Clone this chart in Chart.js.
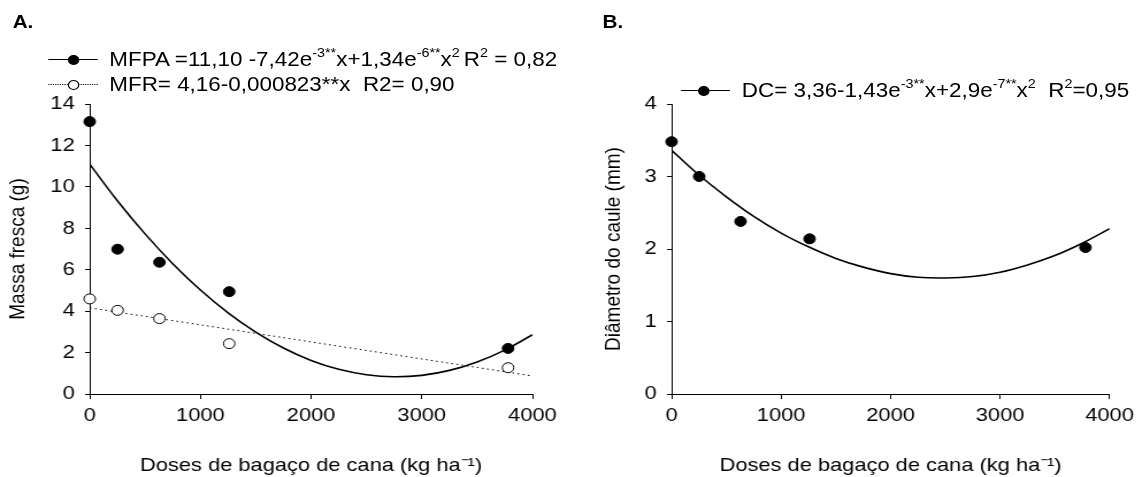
<!DOCTYPE html>
<html>
<head>
<meta charset="utf-8">
<script src="https://cdn.jsdelivr.net/npm/chart.js@4.4.1/dist/chart.umd.min.js"></script>
<style>
  body { margin: 0; background: #fff; overflow: hidden; }
  #wrap { position: absolute; left: 0; top: 0; width: 991.3px; height: 477px; transform: scaleX(1.15); transform-origin: 0 0; }
  .box { position: absolute; top: 0; height: 477px; }
  .txt { position: absolute; font-family: "Liberation Sans", Arial, sans-serif; color: #000; white-space: nowrap; line-height: 1; }
  .leg { font-size: 19.5px; transform: translateY(-50%); }
  .leg sup { font-size: 12.5px; vertical-align: baseline; position: relative; top: -0.72em; }
  .panel { font-size: 18px; font-weight: bold; transform: translateY(-50%); }
  .ln { position: absolute; height: 0; border-top: 1.5px solid #000; }
  .dot { position: absolute; height: 0; border-top: 1.2px dotted #000; }
  .mk { position: absolute; width: 10px; height: 10px; border-radius: 50%; box-sizing: border-box; border: 1px solid #000; }
</style>
</head>
<body>
<div id="wrap">
  <div class="box" style="left:0;width:504px"><canvas id="chartA"></canvas></div>
  <div class="box" style="left:504px;width:487px"><canvas id="chartB"></canvas></div>

  <div class="txt panel" style="left:11px;top:22px">A.</div>
  <div class="txt panel" style="left:524px;top:22px">B.</div>

  <!-- legend A -->
  <div class="ln" style="left:42px;top:59px;width:43px"></div>
  <div class="mk" style="left:59px;top:55px;background:#000"></div>
  <div class="txt leg" style="left:95px;top:60px">MFPA =11,10 -7,42e<sup>-3**</sup>x+1,34e<sup>-6**</sup>x<sup>2 </sup>R<sup>2</sup> = 0,82</div>
  <div class="dot" style="left:42px;top:84px;width:43px"></div>
  <div class="mk" style="left:59px;top:80px;background:#fff"></div>
  <div class="txt leg" style="left:95px;top:85px">MFR= 4,16-0,000823**x&nbsp; R2= 0,90</div>

  <!-- legend B -->
  <div class="ln" style="left:592px;top:90px;width:43px"></div>
  <div class="mk" style="left:607px;top:86px;background:#000"></div>
  <div class="txt leg" style="left:645px;top:91px">DC= 3,36-1,43e<sup>-3**</sup>x+2,9e<sup>-7**</sup>x<sup>2</sup>&nbsp; R<sup>2</sup>=0,95</div>
</div>

<script>
// doses de bagaço (kg/ha)
const doses = [0, 252, 630, 1260, 3780];

// panel A
const mfpa = [13.15, 6.99, 6.36, 4.94, 2.2];
const mfr = [4.59, 4.04, 3.64, 2.43, 1.27];

// fitted curves
const fitX = [0, 250, 500, 750, 1000, 1250, 1500, 1750, 2000, 2250, 2500, 2750, 3000, 3250, 3500, 3750, 4000];
const mfpaFit = [11.10, 9.33, 7.73, 6.29, 5.02, 3.92, 2.99, 2.22, 1.62, 1.19, 0.93, 0.83, 0.90, 1.14, 1.55, 2.12, 2.86];
const mfrFitX = [0, 4000];
const mfrFit = [4.16, 0.87];

// panel B
const dc = [3.48, 3.0, 2.38, 2.14, 2.02];
const dcFit = [3.36, 3.02, 2.72, 2.45, 2.22, 2.03, 1.87, 1.75, 1.66, 1.61, 1.60, 1.62, 1.68, 1.78, 1.91, 2.08, 2.28];

const xTicks = [0, 1000, 2000, 3000, 4000];

const FONT = '"Liberation Sans", Arial, sans-serif';

function pts(xs, ys) {
  return xs.map((x, i) => ({ x: x, y: ys[i] }));
}

function scatterSet(xs, ys, fill) {
  return {
    data: pts(xs, ys),
    showLine: false,
    pointRadius: 5,
    pointHoverRadius: 5,
    pointBackgroundColor: fill,
    pointBorderColor: '#000',
    pointBorderWidth: 1,
    clip: false
  };
}

function lineSet(xs, ys, dash, width) {
  return {
    data: pts(xs, ys),
    showLine: true,
    pointRadius: 0,
    borderColor: '#000',
    borderWidth: width,
    borderDash: dash,
    tension: 0.4,
    fill: false
  };
}

function makeScales(yMax, yStep, yTitle, yWidth, yTitlePad) {
  return {
    x: {
      type: 'linear',
      min: 0,
      max: 4000,
      afterBuildTicks: s => { s.ticks = xTicks.map(v => ({ value: v })); },
      ticks: { color: '#000', font: { family: FONT, size: 19 }, padding: 5, maxRotation: 0, callback: v => String(v) },
      grid: { drawOnChartArea: false, drawTicks: true, tickLength: 5, color: '#000' },
      border: { display: true, color: '#000', width: 1 },
      title: {
        display: true,
        text: 'Doses de bagaço de cana (kg ha⁻¹)',
        color: '#000',
        font: { family: FONT, size: 19 },
        padding: { top: 1, bottom: 0 }
      },
      afterFit: s => { s.height = 83; }
    },
    y: {
      min: 0,
      max: yMax,
      ticks: { stepSize: yStep, color: '#000', font: { family: FONT, size: 19 }, padding: 9, callback: v => String(v) },
      grid: { drawOnChartArea: false, drawTicks: true, tickLength: 4, color: '#000' },
      border: { display: true, color: '#000', width: 1 },
      title: {
        display: true,
        text: yTitle,
        color: '#000',
        font: { family: FONT, size: 19 },
        padding: { top: yTitlePad, bottom: 0 }
      },
      afterFit: s => { s.width = yWidth; }
    }
  };
}

const common = {
  responsive: true,
  maintainAspectRatio: false,
  animation: false,
  plugins: { legend: { display: false }, tooltip: { enabled: false } },
  events: []
};

new Chart(document.getElementById('chartA'), {
  type: 'scatter',
  data: {
    datasets: [
      scatterSet(doses, mfpa, '#000'),
      scatterSet(doses, mfr, '#fff'),
      lineSet(fitX, mfpaFit, [], 1.6),
      lineSet(mfrFitX, mfrFit, [1.5, 3], 1)
    ]
  },
  options: Object.assign({}, common, {
    layout: { padding: { left: 0, top: 104, right: 41, bottom: 0 } },
    scales: makeScales(14, 2, 'Massa fresca (g)', 78, 4)
  })
});

new Chart(document.getElementById('chartB'), {
  type: 'scatter',
  data: {
    datasets: [
      scatterSet(doses, dc, '#000'),
      lineSet(fitX, dcFit, [], 1.6)
    ]
  },
  options: Object.assign({}, common, {
    layout: { padding: { left: 0, top: 104, right: 24, bottom: 0 } },
    scales: makeScales(4, 1, 'Diâmetro do caule (mm)', 80, 18)
  })
});
</script>
</body>
</html>
